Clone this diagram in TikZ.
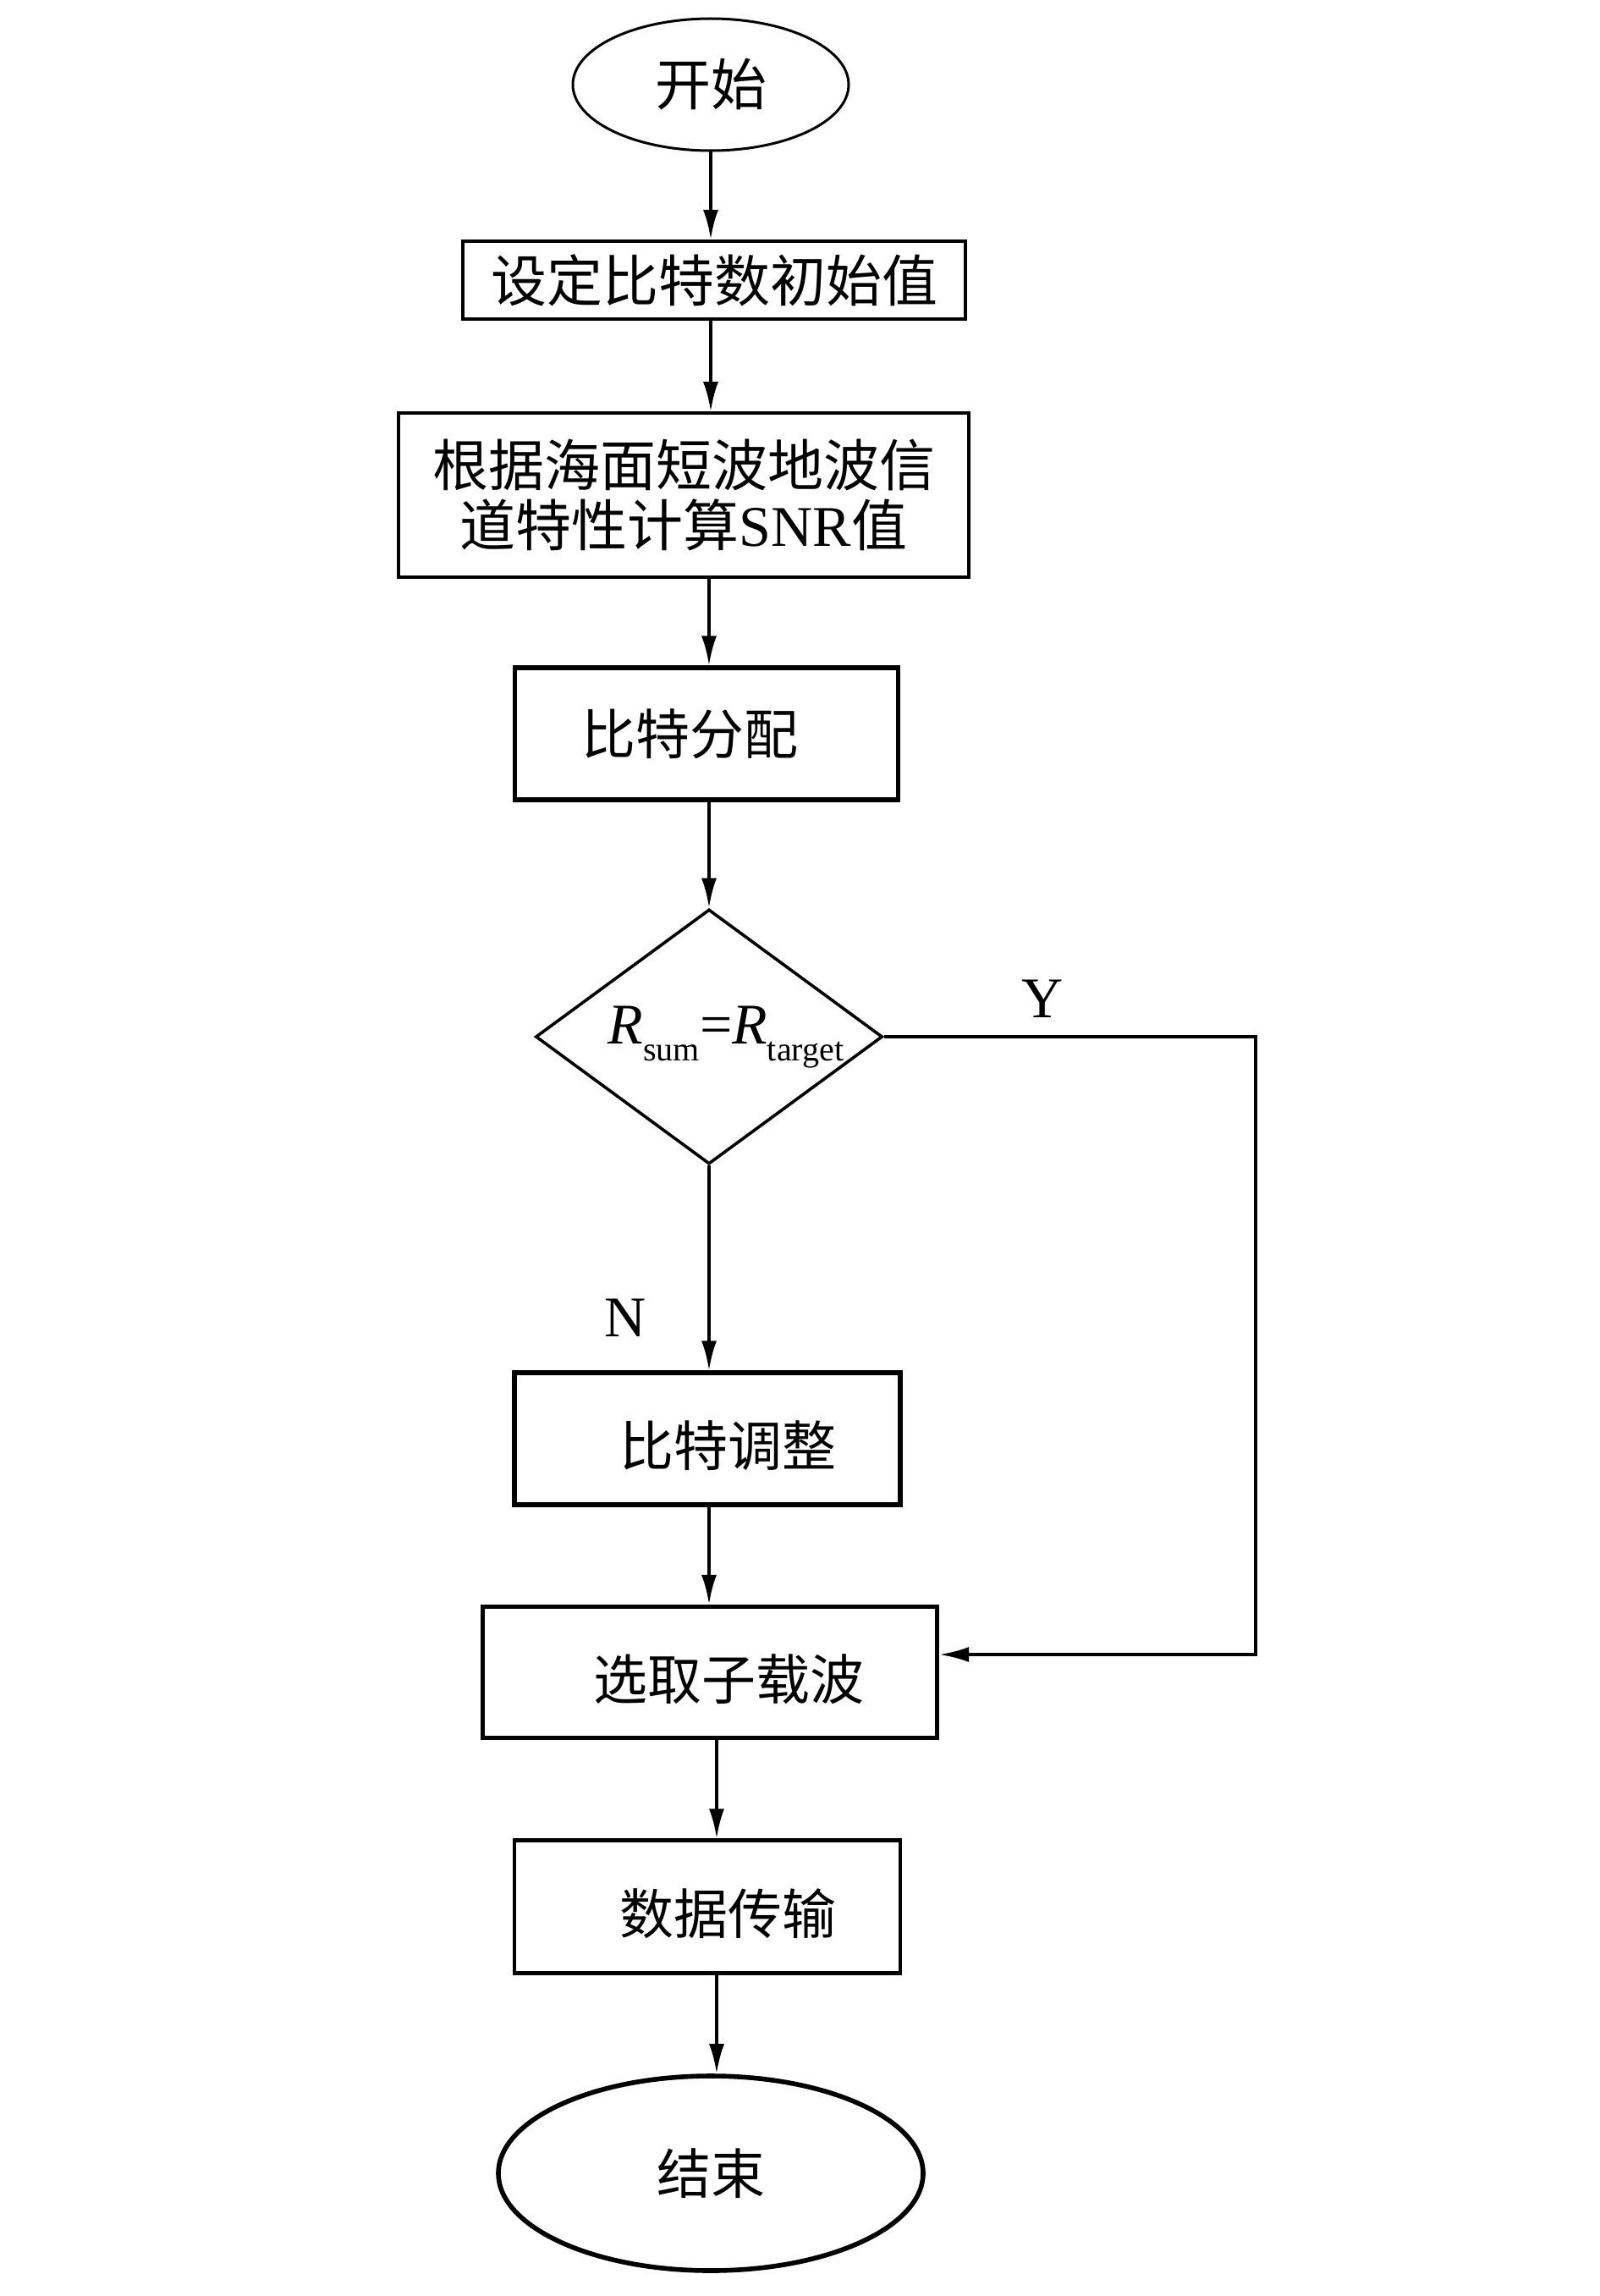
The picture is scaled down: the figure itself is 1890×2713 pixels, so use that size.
\documentclass[tikz,border=0pt]{standalone}
\usepackage{fontspec}
\setmainfont{Liberation Serif}
\newfontfamily\cjk{Noto Sans CJK SC}
\newcommand{\zhA}[1]{{\cjk\fontsize{33}{35.5}\selectfont #1}}
\newcommand{\zhB}[1]{{\cjk\fontsize{32}{34}\selectfont #1}}
\usetikzlibrary{shapes.geometric,arrows.meta}
\begin{document}
\begin{tikzpicture}[x=0.5pt,y=-0.5pt,
  every node/.style={font=\fontsize{34}{35.5}\selectfont},
  proc/.style={draw, rectangle, line width=2.1pt, inner sep=0pt, align=center},
  procthick/.style={proc, line width=2.6pt},
  lowtext/.style={text height=34pt, text depth=1.6pt},
  term/.style={draw, ellipse, inner sep=0pt},
  arr/.style={line width=1.9pt, -{Latex[length=17.5pt,width=9pt]}},
  lbl/.style={anchor=base, inner sep=0pt}
  ]
\useasboundingbox (0,0) rectangle (1890,2713);

\node[term, line width=1.5pt, minimum width=163pt, minimum height=78pt] (start) at (840,100) {\zhA{开始}};
\node[proc, minimum width=297pt, minimum height=46pt] (b1) at (844,331) {\zhA{设定比特数初始值}};
\node[proc, line width=1.8pt, minimum width=337pt, minimum height=97pt] (b2) at (808,585) {\zhA{根据海面短波地波信}\\\zhA{道特性计算}SNR\zhA{值}};
\node[procthick, minimum width=226.5pt, minimum height=78pt] (b3) at (835,867) {\zhB{比特分配}\hspace*{20pt}};
\node[draw, diamond, line width=1.8pt, minimum width=205pt, minimum height=150.5pt, inner sep=0pt] (dia) at (838,1225) {};
\node[lbl] (cond) at (858,1233) {\textit{R}\raisebox{-10pt}{\fontsize{20}{20}\selectfont sum}=\textit{R}\raisebox{-10pt}{\fontsize{20}{20}\selectfont target}};
\node[procthick, lowtext, minimum width=228pt, minimum height=78pt] (b4) at (836,1700) {\hspace*{24pt}\zhB{比特调整}};
\node[procthick, lowtext, minimum width=268.5pt, minimum height=77.5pt] (b5) at (839,1976) {\hspace*{22pt}\zhB{选取子载波}};
\node[proc, lowtext, minimum width=228pt, minimum height=78.5pt] (b6) at (836,2253) {\hspace*{24pt}\zhB{数据传输}};
\node[term, line width=2.8pt, minimum width=251pt, minimum height=115pt] (end) at (840,2568) {\zhB{结束}};

\node[lbl] (ylab) at (1232,1202) {Y};
\node[lbl] (nlab) at (739,1579) {N};

\coordinate (lx) at (847,0);
\draw[arr] (start.south) -- (start.south |- b1.north);
\draw[arr] (start.south |- b1.south) -- (start.south |- b2.north);
\draw[arr] (dia.north |- b2.south) -- (dia.north |- b3.north);
\draw[arr] (dia.north |- b3.south) -- (dia.north);
\draw[arr] (dia.south) -- (dia.south |- b4.north);
\draw[arr] (dia.south |- b4.south) -- (dia.south |- b5.north);
\draw[arr] (lx |- b5.south) -- (lx |- b6.north);
\draw[arr] (lx |- b6.south) -- (lx |- end.north);

\coordinate (rc) at (1484,1955);
\draw[arr] (dia.east) -| (rc) -- (rc -| b5.east);
\end{tikzpicture}
\end{document}
